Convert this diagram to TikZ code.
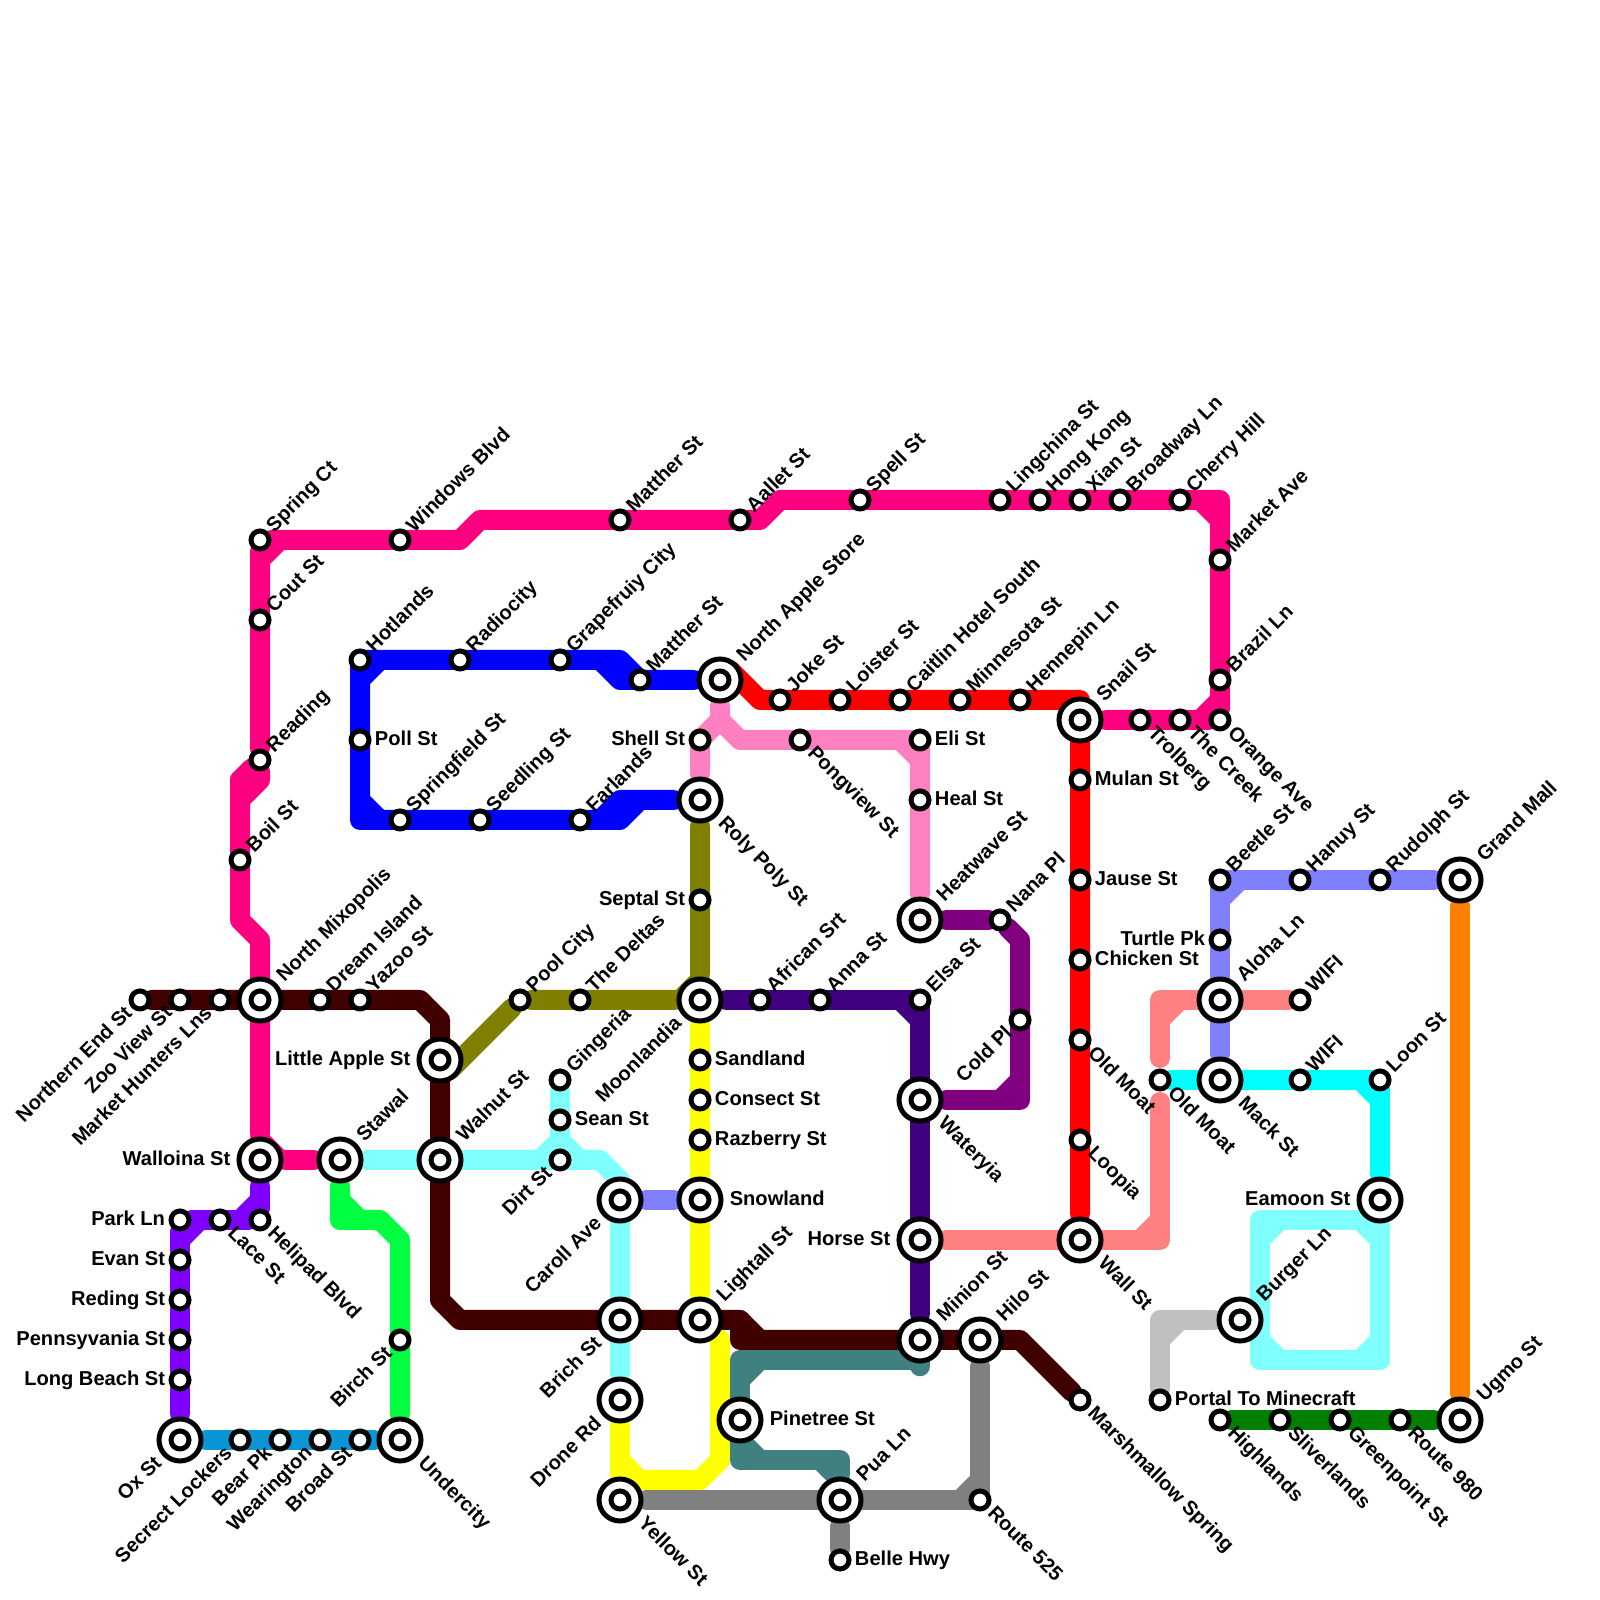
\documentclass[tikz,border=0pt]{standalone}
\usepackage{fontspec}
\setmainfont{Liberation Sans}
\usetikzlibrary{calc,backgrounds}
\definecolor{Maroon}{RGB}{64,0,0}
\definecolor{Magenta}{RGB}{255,0,128}
\definecolor{Rose}{RGB}{255,128,192}
\definecolor{Salmon}{RGB}{255,128,128}
\definecolor{Red}{RGB}{255,0,0}
\definecolor{Blue}{RGB}{0,0,255}
\definecolor{Periwinkle}{RGB}{128,128,255}
\definecolor{Aqua}{RGB}{128,255,255}
\definecolor{Cyan}{RGB}{0,255,255}
\definecolor{Violet}{RGB}{128,0,255}
\definecolor{Lime}{RGB}{0,255,64}
\definecolor{Teal}{RGB}{64,128,128}
\definecolor{Slate}{RGB}{128,128,128}
\definecolor{Silver}{RGB}{192,192,192}
\definecolor{Indigo}{RGB}{64,0,128}
\definecolor{Purple}{RGB}{128,0,128}
\definecolor{Olive}{RGB}{128,128,0}
\definecolor{Yellow}{RGB}{255,255,0}
\definecolor{Orange}{RGB}{255,128,0}
\definecolor{Forest}{RGB}{0,128,0}
\definecolor{Sky}{RGB}{8,150,215}
\tikzset{
  stop/.style={circle,draw=black,fill=white,line width=.125cm,minimum size=.45cm,inner sep=0pt},
  hub/.style={circle,draw=black,fill=white,line width=.125cm,minimum size=1.05cm,inner sep=0pt,outer sep=.1325cm,
    path picture={\draw[black,line width=.125cm] (path picture bounding box.center) circle (.225cm);}},
  tag/.style={font=\bfseries\fontsize{14.3}{17}\selectfont,text=black,inner ysep=0pt,inner xsep=.08cm,text height=.36cm,text depth=.1cm},
  tagNE/.style={label={[tag,rotate=45,anchor=west]45:#1}},
  tagSE/.style={label={[tag,rotate=-45,anchor=west]-45:#1}},
  tagSW/.style={label={[tag,rotate=45,anchor=east]225:#1}},
  tagE/.style={label={[tag,anchor=west]0:#1}},
  tagW/.style={label={[tag,anchor=east]180:#1}},
  metro/.style={line width=.5cm,line join=round,line cap=round}
}
\newcommand{\chamfer}[4]{\draw[metro,draw=#1] ($(#2)+(#3,0)$) -- ($(#2)+(0,#4)$);}

\begin{document}
\begin{tikzpicture}[x=1cm,y=1cm]
  \useasboundingbox (0,0) rectangle (40,40);
  % west side
  \node[stop,tagSW=Northern End St] (northernend) at (3.5,15) {};
  \node[stop,tagSW=Zoo View St] (zooview) at (4.5,15) {};
  \node[stop,tagSW=Market Hunters Lns] (markethunters) at (5.5,15) {};
  \node[hub,tagNE=North Mixopolis] (mixopolis) at (6.5,15) {};
  \node[stop,tagNE=Dream Island] (dream) at (8,15) {};
  \node[stop,tagNE=Yazoo St] (yazoo) at (9,15) {};
  \node[hub,tagW=Little Apple St] (littleapple) at (11,13.5) {};
  \node[hub,tagNE=Walnut St] (walnut) at (11,11) {};
  \node[hub,tagW=Walloina St] (walloina) at (6.5,11) {};
  \node[hub,tagNE=Stawal] (stawal) at (8.5,11) {};
  \node[stop,tagW=Park Ln] (park) at (4.5,9.5) {};
  \node[stop,tagSE=Lace St] (lace) at (5.5,9.5) {};
  \node[stop,tagSE=Helipad Blvd] (helipad) at (6.5,9.5) {};
  \node[stop,tagW=Evan St] (evan) at (4.5,8.5) {};
  \node[stop,tagW=Reding St] (reding) at (4.5,7.5) {};
  \node[stop,tagW=Pennsyvania St] (pennsyvania) at (4.5,6.5) {};
  \node[stop,tagW=Long Beach St] (longbeach) at (4.5,5.5) {};
  \node[hub,tagSW=Ox St] (ox) at (4.5,4) {};
  \node[stop,tagSW=Secrect Lockers] (lockers) at (6,4) {};
  \node[stop,tagSW=Bear Pk] (bear) at (7,4) {};
  \node[stop,tagSW=Wearington] (wearington) at (8,4) {};
  \node[stop,tagSW=Broad St] (broad) at (9,4) {};
  \node[hub,tagSE=Undercity] (undercity) at (10,4) {};
  \node[stop,tagSW=Birch St] (birch) at (10,6.5) {};
  % top loop
  \node[stop,tagNE=Spring Ct] (spring) at (6.5,26.5) {};
  \node[stop,tagNE=Cout St] (cout) at (6.5,24.5) {};
  \node[stop,tagNE=Reading] (reading) at (6.5,21) {};
  \node[stop,tagNE=Boil St] (boil) at (6,18.5) {};
  \node[stop,tagNE=Windows Blvd] (windows) at (10,26.5) {};
  \node[stop,tagNE=Matther St] (mattherA) at (15.5,27) {};
  \node[stop,tagNE=Aallet St] (aallet) at (18.5,27) {};
  \node[stop,tagNE=Spell St] (spell) at (21.5,27.5) {};
  \node[stop,tagNE=Lingchina St] (lingchina) at (25,27.5) {};
  \node[stop,tagNE=Hong Kong] (hongkong) at (26,27.5) {};
  \node[stop,tagNE=Xian St] (xian) at (27,27.5) {};
  \node[stop,tagNE=Broadway Ln] (broadway) at (28,27.5) {};
  \node[stop,tagNE=Cherry Hill] (cherry) at (29.5,27.5) {};
  \node[stop,tagNE=Market Ave] (marketave) at (30.5,26) {};
  \node[stop,tagNE=Brazil Ln] (brazil) at (30.5,23) {};
  \node[stop,tagSE=Orange Ave] (orange) at (30.5,22) {};
  \node[stop,tagSE=The Creek] (creek) at (29.5,22) {};
  \node[stop,tagSE=Trolberg] (trolberg) at (28.5,22) {};
  \node[hub,tagNE=Snail St] (snail) at (27,22) {};
  % blue and red
  \node[stop,tagNE=Hotlands] (hotlands) at (9,23.5) {};
  \node[stop,tagNE=Radiocity] (radiocity) at (11.5,23.5) {};
  \node[stop,tagNE=Grapefruiy City] (grapefruiy) at (14,23.5) {};
  \node[stop,tagNE=Matther St] (mattherB) at (16,23) {};
  \node[hub,tagNE=North Apple Store] (northapple) at (18,23) {};
  \node[stop,tagE=Poll St] (poll) at (9,21.5) {};
  \node[stop,tagNE=Springfield St] (springfield) at (10,19.5) {};
  \node[stop,tagNE=Seedling St] (seedling) at (12,19.5) {};
  \node[stop,tagNE=Farlands] (farlands) at (14.5,19.5) {};
  \node[hub,tagSE=Roly Poly St] (roly) at (17.5,20) {};
  \node[stop,tagW=Shell St] (shell) at (17.5,21.5) {};
  \node[stop,tagW=Septal St] (septal) at (17.5,17.5) {};
  \node[hub,tagSW=Moonlandia] (moonlandia) at (17.5,15) {};
  \node[stop,tagNE=Pool City] (pool) at (13,15) {};
  \node[stop,tagNE=The Deltas] (deltas) at (14.5,15) {};
  \node[stop,tagNE=Joke St] (joke) at (19.5,22.5) {};
  \node[stop,tagNE=Loister St] (loister) at (21,22.5) {};
  \node[stop,tagNE=Caitlin Hotel South] (caitlin) at (22.5,22.5) {};
  \node[stop,tagNE=Minnesota St] (minnesota) at (24,22.5) {};
  \node[stop,tagNE=Hennepin Ln] (hennepin) at (25.5,22.5) {};
  \node[stop,tagSE=Pongview St] (pongview) at (20,21.5) {};
  \node[stop,tagE=Eli St] (eli) at (23,21.5) {};
  \node[stop,tagE=Heal St] (heal) at (23,20) {};
  \node[hub,tagNE=Heatwave St] (heatwave) at (23,17) {};
  \node[stop,tagNE=Nana Pl] (nana) at (25,17) {};
  \node[stop,tagSW=Cold Pl] (cold) at (25.5,14.5) {};
  \node[hub,tagSE=Wateryia] (wateryia) at (23,12.5) {};
  \node[stop,tagNE=African Srt] (african) at (19,15) {};
  \node[stop,tagNE=Anna St] (anna) at (20.5,15) {};
  \node[stop,tagNE=Elsa St] (elsa) at (23,15) {};
  \node[hub,tagW=Horse St] (horse) at (23,9) {};
  \node[hub,tagNE=Minion St] (minion) at (23,6.5) {};
  \node[hub,tagNE=Hilo St] (hilo) at (24.5,6.5) {};
  \node[stop,tagSE=Marshmallow Spring] (marshmallow) at (27,5) {};
  \node[stop,tagSE=Route 525] (route525) at (24.5,2.5) {};
  \node[hub,tagNE=Pua Ln] (pua) at (21,2.5) {};
  \node[stop,tagE=Belle Hwy] (belle) at (21,1) {};
  % south centre
  \node[hub,tagSE=Yellow St] (yellowst) at (15.5,2.5) {};
  \node[hub,tagSW=Drone Rd] (drone) at (15.5,5) {};
  \node[hub,tagSW=Brich St] (brich) at (15.5,7) {};
  \node[hub,tagNE=Lightall St] (lightall) at (17.5,7) {};
  \node[hub,tagSW=Caroll Ave] (caroll) at (15.5,10) {};
  \node[hub,tagE=Snowland] (snowland) at (17.5,10) {};
  \node[stop,tagE=Sandland] (sandland) at (17.5,13.5) {};
  \node[stop,tagE=Consect St] (consect) at (17.5,12.5) {};
  \node[stop,tagE=Razberry St] (razberry) at (17.5,11.5) {};
  \node[stop,tagNE=Gingeria] (gingeria) at (14,13) {};
  \node[stop,tagE=Sean St] (sean) at (14,12) {};
  \node[stop,tagSW=Dirt St] (dirt) at (14,11) {};
  \node[hub,tagE=Pinetree St] (pinetree) at (18.5,4.5) {};
  % east side
  \node[stop,tagE=Mulan St] (mulan) at (27,20.5) {};
  \node[stop,tagE=Jause St] (jause) at (27,18) {};
  \node[stop,tagE=Chicken St] (chicken) at (27,16) {};
  \node[stop,tagSE=Old Moat] (oldmoatA) at (27,14) {};
  \node[stop,tagSE=Loopia] (loopia) at (27,11.5) {};
  \node[hub,tagSE=Wall St] (wall) at (27,9) {};
  \node[stop,tagSE=Old Moat] (oldmoatB) at (29,13) {};
  \node[stop,tagNE=Beetle St] (beetle) at (30.5,18) {};
  \node[stop,tagW=Turtle Pk] (turtle) at (30.5,16.5) {};
  \node[hub,tagNE=Aloha Ln] (aloha) at (30.5,15) {};
  \node[hub,tagSE=Mack St] (mack) at (30.5,13) {};
  \node[stop,tagNE=WIFI] (wifiA) at (32.5,15) {};
  \node[stop,tagNE=WIFI] (wifiB) at (32.5,13) {};
  \node[stop,tagNE=Hanuy St] (hanuy) at (32.5,18) {};
  \node[stop,tagNE=Rudolph St] (rudolph) at (34.5,18) {};
  \node[hub,tagNE=Grand Mall] (grandmall) at (36.5,18) {};
  \node[stop,tagNE=Loon St] (loon) at (34.5,13) {};
  \node[hub,tagW=Eamoon St] (eamoon) at (34.5,10) {};
  \node[hub,tagNE=Burger Ln] (burger) at (31,7) {};
  \node[stop,tagE=Portal To Minecraft] (portal) at (29,5) {};
  \node[stop,tagSE=Highlands] (highlands) at (30.5,4.5) {};
  \node[stop,tagSE=Sliverlands] (sliverlands) at (32,4.5) {};
  \node[stop,tagSE=Greenpoint St] (greenpoint) at (33.5,4.5) {};
  \node[stop,tagSE=Route 980] (route980) at (35,4.5) {};
  \node[hub,tagNE=Ugmo St] (ugmo) at (36.5,4.5) {};
  \begin{scope}[on background layer]
    % yellow
    \draw[metro,draw=Yellow] (moonlandia) -- (lightall) -- (18,6.5) -- (18,3.5) -- (17.5,3) -- (15.5,3);
    \draw[metro,draw=Yellow] (drone) -- (yellowst);
    \chamfer{Yellow}{15.5,3}{.5}{.5}
    % maroon
    \draw[metro,draw=Maroon] (northernend) -- (10.5,15) -- (11,14.5) -- (11,7.5) -- (11.5,7) -- (18.5,7) -- (19,6.5) -- (25.5,6.5) -- (marshmallow);
    \draw[metro,draw=Maroon] (18.5,7) -- (18.5,6.5) -- (19,6.5);
    % magenta
    \draw[metro,draw=Magenta] (walloina) -- (6.5,16.5) -- (6,17) -- (6,20.5) -- (reading) -- (spring) -- (11.5,26.5) -- (12,27) -- (19,27) -- (19.5,27.5) -- (30.5,27.5) -- (orange) -- (snail);
    \draw[metro,draw=Magenta] (reading) -- (6.5,20.5) -- (6,20) -- (6,20.5);
    \draw[metro,draw=Magenta] (walloina) -- (stawal);
    \chamfer{Magenta}{6.5,11}{.5}{.5}
    \chamfer{Magenta}{6.5,26.5}{.5}{-.5}
    \chamfer{Magenta}{30.5,27.5}{-.5}{-.5}
    \chamfer{Magenta}{30.5,22}{-.5}{.5}
    % violet, sky and lime
    \draw[metro,draw=Violet] (walloina) -- (helipad) -- (park) -- (ox);
    \chamfer{Violet}{6.5,9.5}{-.5}{.5}
    \chamfer{Violet}{4.5,9.5}{.5}{-.5}
    \draw[metro,draw=Sky] (ox) -- (undercity);
    \draw[metro,draw=Lime] (stawal) -- (8.5,9.5) -- (9.5,9.5) -- (10,9) -- (undercity);
    \chamfer{Lime}{8.5,9.5}{.5}{.5}
    % blue
    \draw[metro,draw=Blue] (northapple) -- (16,23) -- (15.5,23.5) -- (9,23.5) -- (9,19.5) -- (15.5,19.5) -- (16,20) -- (roly);
    \draw[metro,draw=Blue] (15,23.5) -- (15.5,23) -- (16,23);
    \draw[metro,draw=Blue] (15,19.5) -- (15.5,20) -- (16,20);
    \chamfer{Blue}{9,23.5}{.5}{-.5}
    \chamfer{Blue}{9,19.5}{.5}{.5}
    % aqua
    \draw[metro,draw=Aqua] (stawal) -- (15,11) -- (15.5,10.5) -- (drone);
    \draw[metro,draw=Aqua] (gingeria) -- (dirt);
    \chamfer{Aqua}{14,11}{-.5}{.5}
    \chamfer{Aqua}{14,11}{.5}{.5}
    \draw[metro,draw=Aqua] (eamoon) -- (34.5,6) -- (31.5,6) -- (31.5,9.5) -- (34.5,9.5);
    \chamfer{Aqua}{34.5,6}{-.5}{.5}
    \chamfer{Aqua}{31.5,6}{.5}{.5}
    \chamfer{Aqua}{31.5,9.5}{.5}{-.5}
    \chamfer{Aqua}{34.5,9.5}{-.5}{-.5}
    % periwinkle
    \draw[metro,draw=Periwinkle] (caroll) -- (snowland);
    \draw[metro,draw=Periwinkle] (grandmall) -- (30.5,18) -- (mack);
    \chamfer{Periwinkle}{30.5,18}{.5}{-.5}
    % olive, indigo, purple
    \draw[metro,draw=Olive] (roly) -- (moonlandia) -- (pool) -- (11.25,13.25) -- (littleapple.center);
    \chamfer{Olive}{17.5,15}{-.5}{.5}
    \draw[metro,draw=Indigo] (moonlandia) -- (23,15) -- (minion);
    \chamfer{Indigo}{23,15}{-.5}{-.5}
    \draw[metro,draw=Purple] (heatwave) -- (nana) -- (25.5,16.5) -- (25.5,12.5) -- (wateryia);
    \chamfer{Purple}{25.5,12.5}{-.5}{.5}
    % red and rose
    \draw[metro,draw=Red] (northapple.center) -- (18.25,23.25) -- (19,22.5) -- (27,22.5) -- (27,22) -- (wall);
    \draw[metro,draw=Rose] (northapple) -- (18,22) -- (17.5,21.5) -- (roly);
    \draw[metro,draw=Rose] (18,22) -- (18.5,21.5) -- (23,21.5) -- (heatwave);
    \chamfer{Rose}{23,21.5}{-.5}{-.5}
    % salmon
    \draw[metro,draw=Salmon] (wifiA) -- (29,15) -- (29,13.55);
    \chamfer{Salmon}{29,15}{.5}{-.5}
    \draw[metro,draw=Salmon] (horse) -- (29,9) -- (29,12.45);
    \chamfer{Salmon}{29,9}{-.5}{.5}
    % cyan
    \draw[metro,draw=Cyan] (oldmoatB) -- (34.5,13) -- (eamoon);
    \chamfer{Cyan}{34.5,13}{-.5}{-.5}
    % teal and grey
    \draw[metro,draw=Teal] (minion) -- (23,6) -- (18.5,6) -- (18.5,3.5) -- (21,3.5) -- (pua);
    \chamfer{Teal}{18.5,6}{.5}{-.5}
    \chamfer{Teal}{18.5,3.5}{.5}{.5}
    \chamfer{Teal}{21,3.5}{-.5}{-.5}
    \draw[metro,draw=Slate] (yellowst) -- (24.5,2.5) -- (hilo);
    \chamfer{Slate}{24.5,2.5}{-.5}{.5}
    \draw[metro,draw=Slate] (pua) -- (belle);
    \draw[metro,draw=Silver] (burger) -- (29,7) -- (portal);
    \chamfer{Silver}{29,7}{.5}{-.5}
    % orange and forest
    \draw[metro,draw=Orange] (grandmall) -- (ugmo);
    \draw[metro,draw=Forest] (highlands) -- (ugmo);
  \end{scope}
\end{tikzpicture}
\end{document}
